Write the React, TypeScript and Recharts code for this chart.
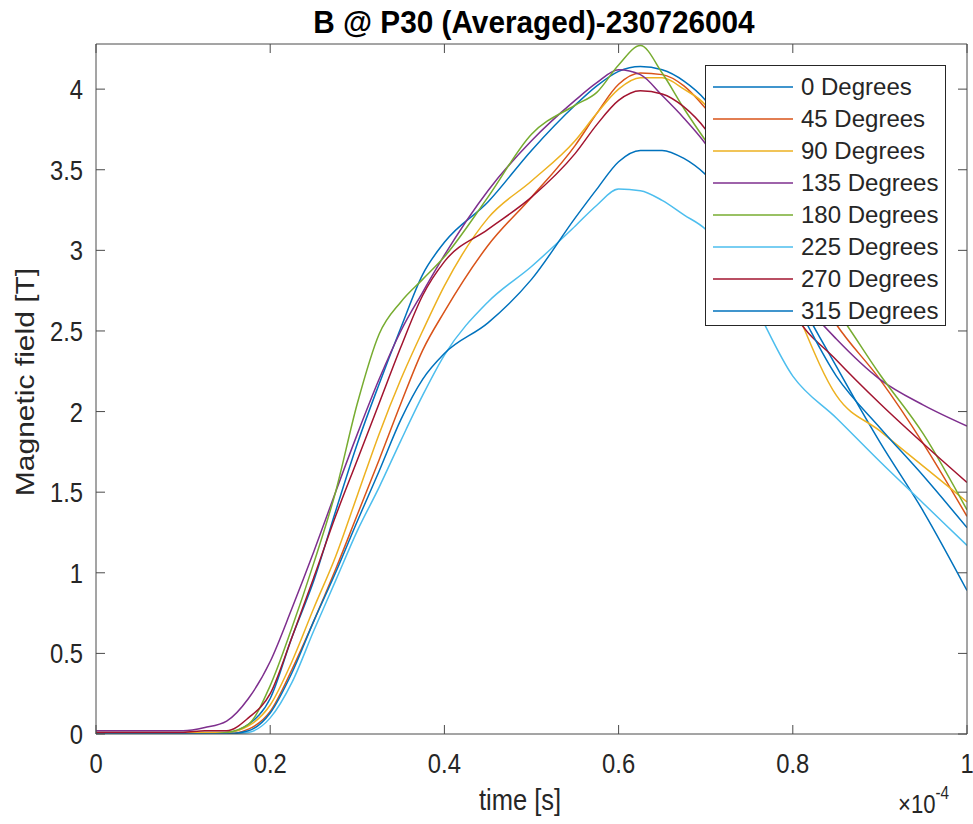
import React from "react";
import { LineChart, Line, XAxis, YAxis, Legend } from "recharts";

// time in units of 1e-4 s
const time = [0, 0.05, 0.1, 0.125, 0.15, 0.175, 0.2, 0.225, 0.25, 0.275, 0.3, 0.325, 0.35, 0.375, 0.4, 0.45, 0.5, 0.55, 0.575, 0.6, 0.625, 0.65, 0.675, 0.7, 0.75, 0.8, 0.85, 0.9, 0.95, 1.0];

const deg0 = [0.01, 0.01, 0.01, 0.01, 0.01, 0.06, 0.22, 0.6, 0.95, 1.38, 1.8, 2.17, 2.52, 2.85, 3.05, 3.3, 3.62, 3.9, 4.02, 4.11, 4.14, 4.12, 4.05, 3.93, 3.45, 2.78, 2.28, 1.81, 1.38, 0.89];
const deg45 = [0, 0, 0, 0, 0, 0.03, 0.14, 0.4, 0.7, 1.02, 1.36, 1.7, 2.05, 2.38, 2.62, 3.03, 3.33, 3.65, 3.85, 4.03, 4.1, 4.09, 4.02, 3.88, 3.5, 3.0, 2.54, 2.2, 1.8, 1.35];
const deg90 = [0.01, 0.01, 0.01, 0.01, 0.01, 0.05, 0.18, 0.45, 0.78, 1.1, 1.48, 1.86, 2.2, 2.5, 2.78, 3.2, 3.43, 3.68, 3.85, 4.0, 4.07, 4.07, 4.0, 3.9, 3.35, 2.68, 2.1, 1.88, 1.66, 1.44];
const deg135 = [0.02, 0.02, 0.02, 0.04, 0.08, 0.22, 0.45, 0.78, 1.13, 1.5, 1.86, 2.2, 2.5, 2.74, 2.97, 3.37, 3.68, 3.93, 4.04, 4.12, 4.09, 3.96, 3.82, 3.66, 3.2, 2.76, 2.45, 2.2, 2.04, 1.91];
const deg180 = [0, 0, 0, 0, 0.01, 0.06, 0.3, 0.66, 1.06, 1.5, 2.05, 2.48, 2.68, 2.82, 2.96, 3.33, 3.72, 3.9, 3.98, 4.15, 4.27, 4.1, 3.88, 3.68, 3.32, 2.97, 2.63, 2.23, 1.86, 1.39];
const deg225 = [0, 0, 0, 0, 0, 0.01, 0.1, 0.32, 0.64, 0.95, 1.26, 1.53, 1.82, 2.1, 2.35, 2.68, 2.9, 3.15, 3.28, 3.38, 3.37, 3.31, 3.22, 3.13, 2.72, 2.22, 1.96, 1.69, 1.43, 1.17];
const deg270 = [0.01, 0.01, 0.01, 0.02, 0.02, 0.1, 0.25, 0.6, 0.97, 1.35, 1.7, 2.05, 2.4, 2.72, 2.93, 3.13, 3.33, 3.6, 3.78, 3.93, 3.99, 3.97, 3.89, 3.75, 3.25, 2.62, 2.32, 2.05, 1.8, 1.56];
const deg315 = [0, 0, 0, 0, 0, 0.02, 0.13, 0.38, 0.7, 1.0, 1.32, 1.63, 1.95, 2.2, 2.36, 2.55, 2.82, 3.2, 3.38, 3.55, 3.62, 3.62, 3.57, 3.47, 3.12, 2.7, 2.22, 1.9, 1.6, 1.28];

const seriesNames = ["0 Degrees", "45 Degrees", "90 Degrees", "135 Degrees", "180 Degrees", "225 Degrees", "270 Degrees", "315 Degrees"];
const seriesColors = ["#0072BD", "#D95319", "#EDB120", "#7E2F8E", "#77AC30", "#4DBEEE", "#A2142F", "#0072BD"];
const series = [deg0, deg45, deg90, deg135, deg180, deg225, deg270, deg315];

const xTicks = [0, 0.2, 0.4, 0.6, 0.8, 1];
const yTicks = [0, 0.5, 1, 1.5, 2, 2.5, 3, 3.5, 4];

const data = time.map((t, i) => {
  const row: Record<string, number> = { t };
  series.forEach((s, k) => (row["s" + k] = s[i]));
  return row;
});

const AXIS = "#4a4a4a";
const TEXT = "#262626";
const FONT = "'Liberation Sans', Arial, sans-serif";
const SQUEEZE = 0.85;

function BottomTick({ x, y, payload }: any) {
  return (
    <g>
      <line x1={x} y1={y} x2={x} y2={y - 9} stroke={AXIS} />
      <text
        transform={`translate(${x},${y + 39}) scale(${SQUEEZE},1)`}
        textAnchor="middle"
        fontSize={28}
        fontFamily={FONT}
        fill={TEXT}
      >
        {String(payload.value)}
      </text>
    </g>
  );
}

function TopTick({ x, y }: any) {
  return <line x1={x} y1={y} x2={x} y2={y + 9} stroke={AXIS} />;
}

function LeftTick({ x, y, payload }: any) {
  return (
    <g>
      <line x1={x} y1={y} x2={x + 9} y2={y} stroke={AXIS} />
      <text
        transform={`translate(${x - 13},${y + 10}) scale(${SQUEEZE},1)`}
        textAnchor="end"
        fontSize={28}
        fontFamily={FONT}
        fill={TEXT}
      >
        {String(payload.value)}
      </text>
    </g>
  );
}

function RightTick({ x, y }: any) {
  return <line x1={x} y1={y} x2={x - 9} y2={y} stroke={AXIS} />;
}

function LegendBox() {
  return (
    <svg width={241} height={261} style={{ display: "block" }}>
      <rect x={0.5} y={0.5} width={240} height={260} fill="#fff" stroke="#262626" />
      {seriesNames.map((name, i) => {
        const cy = 22 + 32 * i;
        return (
          <g key={name}>
            <line x1={8} y1={cy} x2={88} y2={cy} stroke={seriesColors[i]} strokeWidth={1.5} />
            <text x={96} y={cy + 8} fontSize={24} fontFamily={FONT} fill={TEXT}>
              {name}
            </text>
          </g>
        );
      })}
    </svg>
  );
}

export default function App() {
  return (
    <div style={{ position: "absolute", left: 0, top: 0, width: 973, height: 824, background: "#fff" }}>
      <LineChart width={973} height={824} data={data} margin={{ top: 14, right: 0, bottom: 0, left: 0 }}>
        <XAxis
          dataKey="t"
          type="number"
          domain={[0, 1]}
          ticks={xTicks}
          interval={0}
          height={90}
          tickSize={0}
          tickMargin={0}
          tickLine={false}
          stroke={AXIS}
          tick={BottomTick}
          allowDataOverflow
        />
        <XAxis
          xAxisId="top"
          orientation="top"
          dataKey="t"
          type="number"
          domain={[0, 1]}
          ticks={xTicks}
          interval={0}
          height={30}
          tickSize={0}
          tickMargin={0}
          tickLine={false}
          stroke={AXIS}
          tick={TopTick}
          allowDataOverflow
        />
        <YAxis
          type="number"
          domain={[0, 4.28]}
          ticks={yTicks}
          interval={0}
          width={96}
          tickSize={0}
          tickMargin={0}
          tickLine={false}
          stroke={AXIS}
          tick={LeftTick}
          allowDataOverflow
        />
        <YAxis
          yAxisId="right"
          orientation="right"
          type="number"
          domain={[0, 4.28]}
          ticks={yTicks}
          interval={0}
          width={6}
          tickSize={0}
          tickMargin={0}
          tickLine={false}
          stroke={AXIS}
          tick={RightTick}
          allowDataOverflow
        />
        {series.map((_, k) => (
          <Line
            key={k}
            dataKey={"s" + k}
            name={seriesNames[k]}
            type="monotone"
            stroke={seriesColors[k]}
            strokeWidth={1.5}
            dot={false}
            activeDot={false}
            isAnimationActive={false}
          />
        ))}
        <Legend
          layout="vertical"
          align="center"
          verticalAlign="middle"
          wrapperStyle={{ left: 705, top: 65, width: 241, height: 261 }}
          content={() => <LegendBox />}
        />
      </LineChart>
      <svg
        width={973}
        height={824}
        style={{ position: "absolute", left: 0, top: 0, pointerEvents: "none" }}
      >
        <text
          transform={`translate(534,33) scale(0.96,1)`}
          textAnchor="middle"
          fontSize={31}
          fontWeight="bold"
          fontFamily={FONT}
          fill="#000"
        >
          B @ P30 (Averaged)-230726004
        </text>
        <text
          transform={`translate(520,810) scale(${SQUEEZE},1)`}
          textAnchor="middle"
          fontSize={30}
          fontFamily={FONT}
          fill={TEXT}
        >
          time [s]
        </text>
        <text
          transform={`translate(34,382) rotate(-90) scale(1,${SQUEEZE})`}
          textAnchor="middle"
          fontSize={30}
          fontFamily={FONT}
          fill={TEXT}
        >
          Magnetic field [T]
        </text>
        <text transform={`translate(898,813) scale(${SQUEEZE},1)`} fontSize={26} fontFamily={FONT} fill={TEXT}>
          ×10
          <tspan dy={-14} fontSize={18}>
            -4
          </tspan>
        </text>
      </svg>
    </div>
  );
}
